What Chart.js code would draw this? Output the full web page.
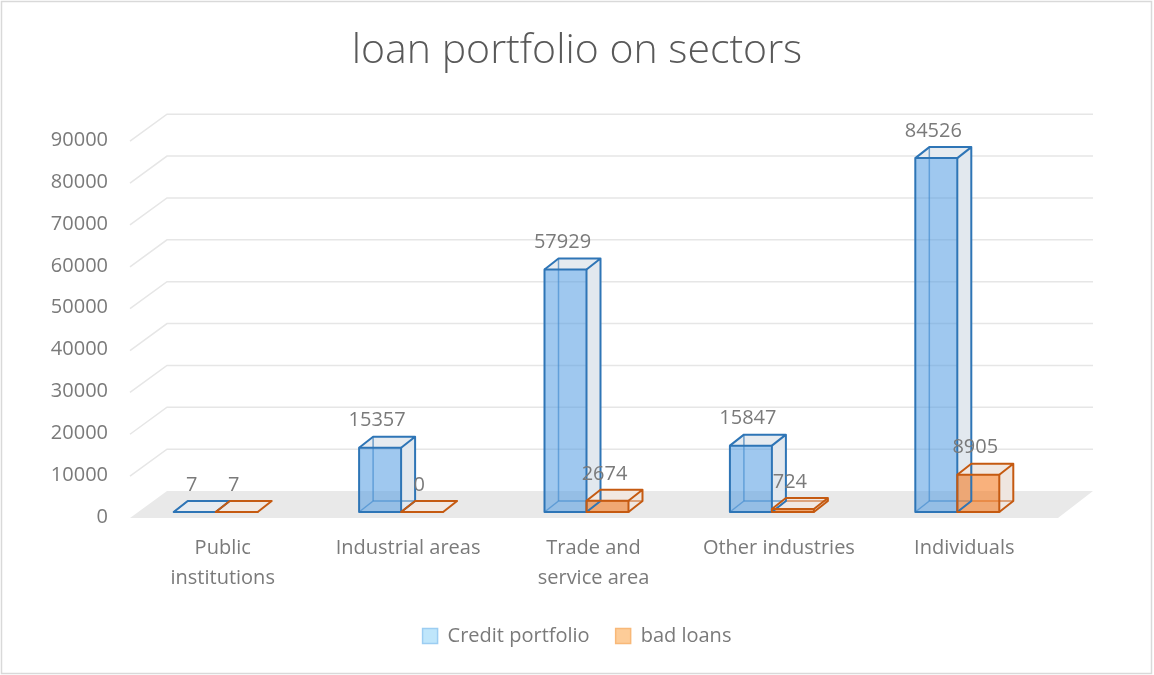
<!DOCTYPE html>
<html>
<head>
<meta charset="utf-8">
<title>loan portfolio on sectors</title>
<script src="https://cdn.jsdelivr.net/npm/chart.js@4.4.1/dist/chart.umd.min.js"></script>
<style>
  html, body { margin: 0; padding: 0; background: #fff; }
</style>
</head>
<body>
<canvas id="loanChart" width="1154" height="675"></canvas>
<script>
// sectors and amounts
const sectors = [["Public", "institutions"], "Industrial areas", ["Trade and", "service area"], "Other industries", "Individuals"];
const creditPortfolio = [7, 15357, 57929, 15847, 84526];
const badLoans = [7, 0, 2674, 724, 8905];
const yMax = 90000;
const yStep = 10000;

const FONT = "'Open Sans', sans-serif";
const TEXT = "#7a7a7a";

// depth of a box
const BOX_DX = 14, BOX_DY = -11;

const palette = [
  { front: "rgba(80,155,225,0.55)", edge: "#2e75b6", side: "#e2e8ee", top: "#e6ebf0", legFill: "#bfe6fb", legEdge: "#9ccdf2" },
  { front: "rgba(245,120,30,0.58)", edge: "#c55a11", side: "#efe6e0", top: "#f1e8e2", legFill: "#fdcc98", legEdge: "#f8b878" }
];

function poly(ctx, pts) {
  ctx.beginPath();
  ctx.moveTo(pts[0][0], pts[0][1]);
  for (let i = 1; i < pts.length; i++) ctx.lineTo(pts[i][0], pts[i][1]);
  ctx.closePath();
}

function line(ctx, x1, y1, x2, y2) {
  ctx.beginPath();
  ctx.moveTo(x1, y1);
  ctx.lineTo(x2, y2);
  ctx.stroke();
}

function boxOf(bar) {
  const p = bar.getProps(["x", "y", "base", "width"], true);
  return {
    l: p.x - p.width / 2,
    r: p.x + p.width / 2,
    t: Math.min(p.y, p.base),
    b: Math.max(p.y, p.base),
    cx: p.x
  };
}

/* =========================
   FLOOR + BACK WALL GRID
========================= */
const wallPlugin = {
  id: "walls",
  beforeDatasetsDraw(chart) {
    const { ctx, chartArea: a, scales } = chart;
    const y = scales.y;
    const fl = a.left + 7, fr = a.right + 8;
    const bl = a.left + 44, br = a.right + 43;
    const base = y.getPixelForValue(0);

    ctx.save();
    ctx.fillStyle = "#e9e9e9";
    poly(ctx, [[fl, base + 6], [fr, base + 6], [br, base - 21], [bl, base - 21]]);
    ctx.fill();

    ctx.strokeStyle = "#e6e6e6";
    ctx.lineWidth = 1.5;
    y.ticks.forEach(t => {
      if (t.value === 0) return;
      const p = y.getPixelForValue(t.value);
      ctx.beginPath();
      ctx.moveTo(fl, p + 6);
      ctx.lineTo(bl, p - 21);
      ctx.lineTo(br, p - 21);
      ctx.stroke();
    });
    ctx.restore();
  }
};

/* =========================
   3D BOXES
========================= */
const boxPlugin = {
  id: "boxes",
  // back faces and hidden edges, before the front faces are filled
  beforeDatasetsDraw(chart) {
    const ctx = chart.ctx;
    ctx.save();
    chart.data.datasets.forEach((ds, di) => {
      const c = palette[di];
      chart.getDatasetMeta(di).data.forEach(bar => {
        const { l, r, t, b } = boxOf(bar);
        const dx = BOX_DX, dy = BOX_DY;
        // right side
        ctx.fillStyle = c.side;
        poly(ctx, [[r, t], [r + dx, t + dy], [r + dx, b + dy], [r, b]]);
        ctx.fill();
        // top
        ctx.fillStyle = c.top;
        poly(ctx, [[l, t], [l + dx, t + dy], [r + dx, t + dy], [r, t]]);
        ctx.fill();
        // edges seen through the front
        ctx.strokeStyle = c.edge;
        ctx.globalAlpha = 0.65;
        ctx.lineWidth = 1.5;
        line(ctx, l + dx, t + dy, l + dx, b + dy);
        line(ctx, l + dx, b + dy, r + dx, b + dy);
        line(ctx, l, b, l + dx, b + dy);
        ctx.globalAlpha = 1;
      });
    });
    ctx.restore();
  },
  // outer edges and value labels
  afterDatasetsDraw(chart) {
    const ctx = chart.ctx;
    ctx.save();
    chart.data.datasets.forEach((ds, di) => {
      const c = palette[di];
      chart.getDatasetMeta(di).data.forEach((bar, i) => {
        const { l, r, t, b, cx } = boxOf(bar);
        const dx = BOX_DX, dy = BOX_DY;
        ctx.strokeStyle = c.edge;
        ctx.lineWidth = 2;
        ctx.lineJoin = "round";
        ctx.strokeRect(l, t, r - l, b - t);
        ctx.beginPath();
        ctx.moveTo(l, t);
        ctx.lineTo(l + dx, t + dy);
        ctx.lineTo(r + dx, t + dy);
        ctx.lineTo(r + dx, b + dy);
        ctx.lineTo(r, b);
        ctx.moveTo(r, t);
        ctx.lineTo(r + dx, t + dy);
        ctx.stroke();

        ctx.fillStyle = TEXT;
        ctx.font = "20px " + FONT;
        ctx.textAlign = "center";
        ctx.textBaseline = "middle";
        ctx.fillText(String(ds.data[i]), cx - 3, t - 27);
      });
    });
    ctx.restore();
  }
};

/* =========================
   FRAME
========================= */
const framePlugin = {
  id: "frame",
  afterDraw(chart) {
    const ctx = chart.ctx;
    ctx.save();
    ctx.strokeStyle = "#d9d9d9";
    ctx.lineWidth = 1.5;
    ctx.strokeRect(1.5, 1.5, 1150, 672);
    ctx.restore();
  }
};

const ctx = document.getElementById("loanChart");

new Chart(ctx, {
  type: "bar",
  data: {
    labels: sectors,
    datasets: [
      { label: "Credit portfolio", data: creditPortfolio, backgroundColor: palette[0].front, borderWidth: 0 },
      { label: "bad loans", data: badLoans, backgroundColor: palette[1].front, borderWidth: 0 }
    ]
  },
  options: {
    responsive: false,
    animation: false,
    events: [],
    layout: { padding: { top: 0, left: 0, right: 0, bottom: 19 } },
    datasets: {
      bar: { categoryPercentage: 0.453, barPercentage: 1.0 }
    },
    scales: {
      x: {
        grid: { display: false, drawTicks: false },
        border: { display: false },
        ticks: {
          color: TEXT,
          font: { family: FONT, size: 20, lineHeight: 1.5 },
          padding: 21,
          labelOffset: 7,
          maxRotation: 0,
          autoSkip: false
        },
        afterFit: s => { s.height = 88; }
      },
      y: {
        min: 0,
        max: yMax,
        grid: { display: false, drawTicks: false },
        border: { display: false },
        ticks: {
          stepSize: yStep,
          color: TEXT,
          font: { family: FONT, size: 20 },
          padding: 15,
          labelOffset: 5,
          callback: v => String(v)
        },
        afterFit: s => { s.width = 123; }
      },
      // keeps room on the right for the depth of the floor
      yRight: {
        position: "right",
        display: true,
        grid: { display: false, drawTicks: false },
        border: { display: false },
        ticks: { display: false },
        afterFit: s => { s.width = 104; }
      }
    },
    plugins: {
      title: {
        display: true,
        text: "loan portfolio on sectors",
        color: "#595959",
        font: { family: FONT, size: 41, weight: "300", lineHeight: 1.2 },
        padding: { top: 27, bottom: 59 }
      },
      legend: {
        position: "bottom",
        labels: {
          color: TEXT,
          font: { family: FONT, size: 20 },
          boxWidth: 15,
          boxHeight: 15,
          padding: 26,
          generateLabels: chart => chart.data.datasets.map((ds, i) => ({
            text: ds.label,
            fillStyle: palette[i].legFill,
            strokeStyle: palette[i].legEdge,
            lineWidth: 1.5,
            fontColor: TEXT,
            hidden: false,
            datasetIndex: i
          }))
        }
      },
      tooltip: { enabled: false }
    }
  },
  plugins: [wallPlugin, boxPlugin, framePlugin]
});
</script>
</body>
</html>
